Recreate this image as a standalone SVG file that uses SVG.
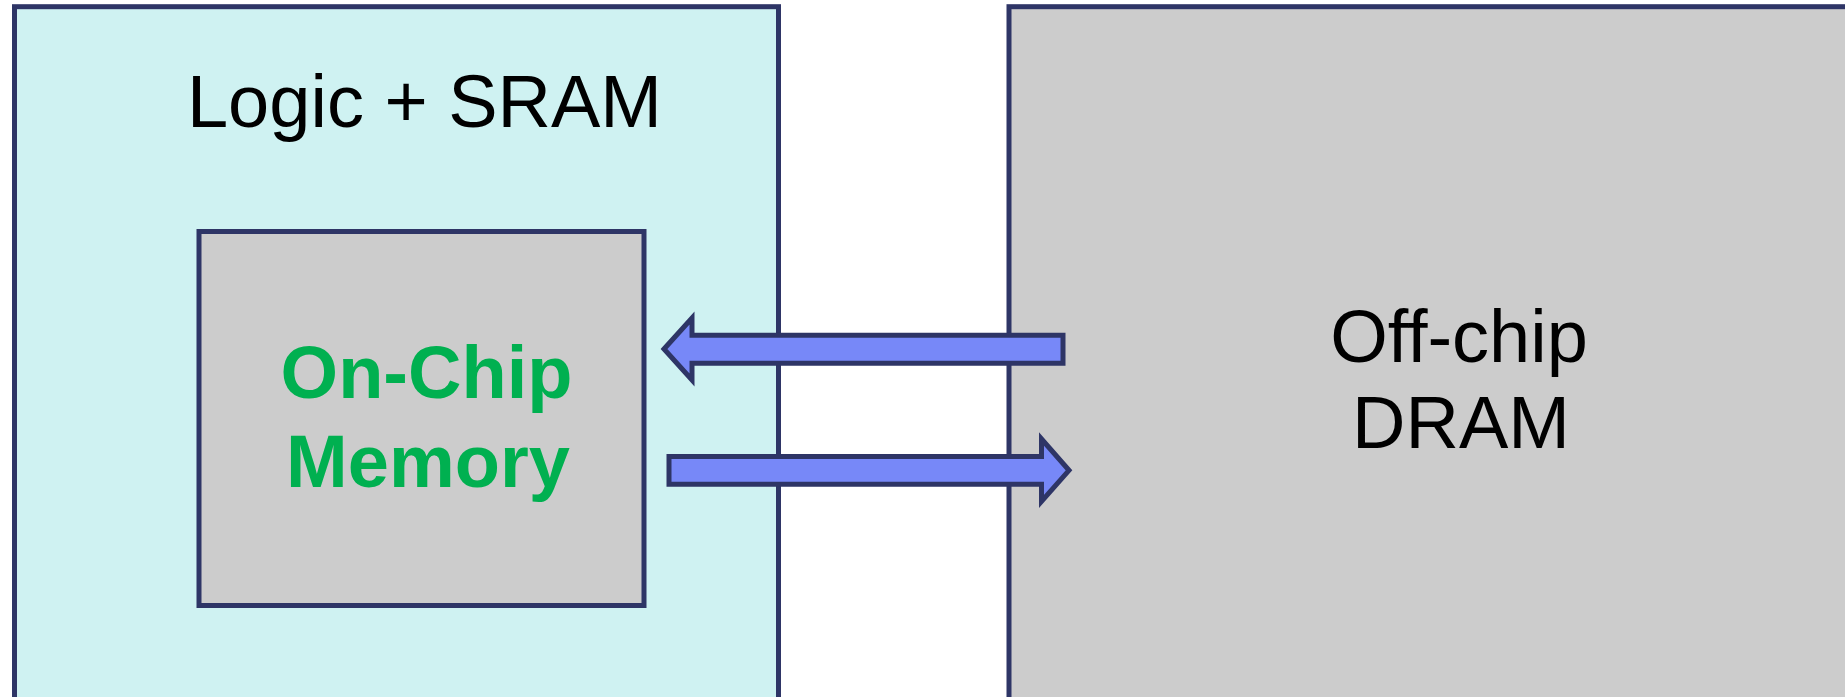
<svg xmlns="http://www.w3.org/2000/svg" width="1845" height="697" viewBox="0 0 1845 697">
<style>
.box{stroke:#2E3566;stroke-width:5}
.arrow{fill:#7788F8;stroke:#2E3566;stroke-width:5;stroke-linejoin:miter}
.t{font-family:"Liberation Sans",Arial,sans-serif;font-size:74px;text-anchor:middle;fill:#000}
.g{font-weight:bold;fill:#00B050}
</style>
<rect width="1845" height="697" fill="#fff"/>
<g id="logic">
<rect class="box" x="14.5" y="6.7" width="764" height="720" fill="#CFF2F2"/>
<text class="t" x="424.5" y="126.7">Logic + SRAM</text>
</g>
<g id="dram">
<rect class="box" x="1009" y="6.7" width="880" height="720" fill="#CCCCCC"/>
<text class="t" x="1459" y="361.7">Off-chip</text>
<text class="t" x="1461" y="448.3">DRAM</text>
</g>
<g id="onchip">
<rect class="box" x="199" y="231.5" width="445" height="374" fill="#CCCCCC"/>
<text class="t g" x="426.5" y="398.3">On-Chip</text>
<text class="t g" x="428" y="486.7">Memory</text>
</g>
<g id="connectors">
<polygon class="arrow" points="664,349 692,318 692,335.2 1063,335.2 1063,363.2 692,363.2 692,380"/>
<polygon class="arrow" points="669,456.5 1041.5,456.5 1041.5,439 1069,470.3 1041.5,501.5 1041.5,484.2 669,484.2"/>
</g>
</svg>
